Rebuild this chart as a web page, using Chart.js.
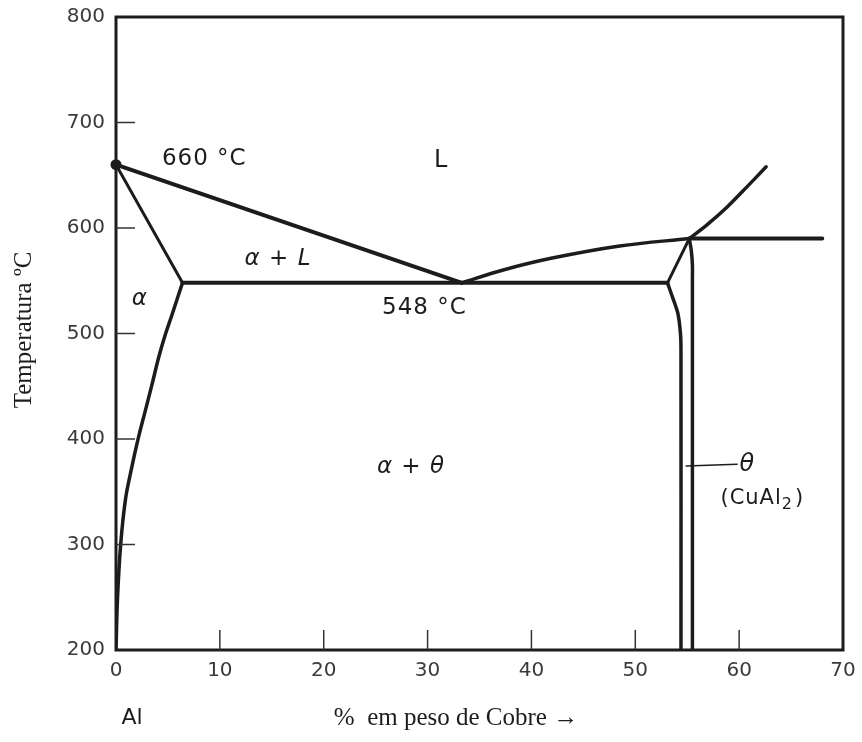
<!DOCTYPE html>
<html>
<head>
<meta charset="utf-8">
<script src="https://cdn.jsdelivr.net/npm/chart.js@4.4.0/dist/chart.umd.min.js"></script>
<style>
  html, body { margin: 0; padding: 0; background: #fff; }
  #wrap { width: 862px; height: 742px; }
</style>
</head>
<body>
<div id="wrap"><canvas id="diagram" width="862" height="742"></canvas></div>
<script>
// Diagrama de fases Al-Cu (lado rico em Al)
const xTicks = [0, 10, 20, 30, 40, 50, 60, 70];
const yTicks = [200, 300, 400, 500, 600, 700, 800];

// linhas do diagrama: % Cu e temperatura
const liquidusAlX = [0, 33.3];
const liquidusAlT = [660, 548];
const solidusX = [0, 6.4];
const solidusT = [660, 548];
const solvusX = [6.4, 6.0, 5.4, 4.75, 4.1, 3.45, 2.8, 2.15, 1.45, 0.9, 0.45, 0.15, 0];
const solvusT = [548, 536, 518, 499, 477, 451, 426, 401, 370, 342, 300, 250, 200];
const eutecticX = [6.4, 53.1];
const eutecticT = [548, 548];
const liquidusThetaX = [33.3, 37.2, 42.0, 48.5, 55.2];
const liquidusThetaT = [548, 560, 571.5, 583, 590];
const thetaTopX = [53.1, 55.2];
const thetaTopT = [548, 590];
const thetaLeftX = [53.1, 53.6, 54.1, 54.35, 54.4, 54.4];
const thetaLeftT = [548, 534, 519, 500, 484, 200];
const thetaRightX = [55.2, 55.4, 55.5, 55.5, 55.5];
const thetaRightT = [590, 578, 565, 550, 200];
const peritecticX = [55.2, 68.0];
const peritecticT = [590, 590];
const liquidusUpperX = [55.2, 56.9, 58.85, 60.75, 62.6];
const liquidusUpperT = [590, 603, 620, 639, 658];
const leaderX = [54.9, 59.8];
const leaderT = [374.5, 376];
const meltPointX = [0];
const meltPointT = [660];

const ink = '#1c1c1c';

function pts(xs, ts) {
    return xs.map((x, i) => ({ x: x, y: ts[i] }));
}

function curve(xs, ts, width, tension) {
    return {
        data: pts(xs, ts),
        showLine: true,
        borderColor: ink,
        borderWidth: width,
        pointRadius: 0,
        tension: tension || 0,
        borderCapStyle: 'round',
        borderJoinStyle: 'round'
    };
}

// rótulos das regiões
const labels = [
    { text: '660 °C', x: 8.5, y: 665, font: '23px "DejaVu Sans"' },
    { text: 'L', x: 31.3, y: 664, font: '24px "DejaVu Sans"' },
    { text: 'α + L', x: 15.6, y: 571, font: 'italic 23px "DejaVu Sans"' },
    { text: 'α', x: 2.3, y: 533, font: 'italic 23px "DejaVu Sans"' },
    { text: '548 °C', x: 29.7, y: 524, font: '23px "DejaVu Sans"' },
    { text: 'α + θ', x: 28.4, y: 373, font: 'italic 23px "DejaVu Sans"' },
    { text: 'θ', x: 60.8, y: 376, font: 'italic 24px "DejaVu Sans"' }
];

const framePlugin = {
    id: 'frame',
    afterDatasetsDraw(chart) {
        const ctx = chart.ctx;
        const a = chart.chartArea;
        const xs = chart.scales.x;
        const ys = chart.scales.y;
        ctx.save();
        ctx.strokeStyle = ink;
        ctx.lineWidth = 3;
        ctx.strokeRect(a.left, a.top, a.right - a.left, a.bottom - a.top);

        // marcas internas
        ctx.lineWidth = 1.5;
        ctx.strokeStyle = '#333';
        xTicks.slice(1, -1).forEach(v => {
            const px = xs.getPixelForValue(v);
            ctx.beginPath();
            ctx.moveTo(px, a.bottom);
            ctx.lineTo(px, a.bottom - 20);
            ctx.stroke();
        });
        yTicks.slice(1, -1).forEach(v => {
            const py = ys.getPixelForValue(v);
            ctx.beginPath();
            ctx.moveTo(a.left, py);
            ctx.lineTo(a.left + 19, py);
            ctx.stroke();
        });

        // textos
        ctx.fillStyle = ink;
        ctx.textAlign = 'center';
        ctx.textBaseline = 'middle';
        ctx.letterSpacing = '1px';
        labels.forEach(l => {
            ctx.font = l.font;
            ctx.fillText(l.text, xs.getPixelForValue(l.x), ys.getPixelForValue(l.y));
        });

        // (CuAl2) com índice
        ctx.textAlign = 'left';
        ctx.font = '21px "DejaVu Sans"';
        const cx = xs.getPixelForValue(58.2);
        const cy = ys.getPixelForValue(344);
        const w1 = ctx.measureText('(CuAl').width;
        ctx.fillText('(CuAl', cx, cy);
        ctx.font = '16px "DejaVu Sans"';
        ctx.fillText('2', cx + w1, cy + 7);
        const w2 = ctx.measureText('2').width;
        ctx.font = '21px "DejaVu Sans"';
        ctx.fillText(')', cx + w1 + w2 + 2, cy);

        ctx.textAlign = 'center';
        ctx.letterSpacing = '0px';
        ctx.font = '22px "DejaVu Sans"';
        ctx.fillText('Al', a.left + 16, 718);

        ctx.font = '25px "Liberation Serif"';
        ctx.fillText('% \u00a0em peso de Cobre \u2192', 456, 718);

        ctx.translate(24, 330);
        ctx.rotate(-Math.PI / 2);
        ctx.font = '25px "Liberation Serif"';
        ctx.fillText('Temperatura ºC', 0, 0);
        ctx.restore();
    }
};

const meltPoint = {
    data: pts(meltPointX, meltPointT),
    pointRadius: 5.5,
    pointBackgroundColor: ink,
    pointBorderWidth: 0,
    showLine: false,
    clip: false
};

new Chart(document.getElementById('diagram'), {
    type: 'scatter',
    data: {
        datasets: [
            curve(liquidusAlX, liquidusAlT, 4),
            curve(solidusX, solidusT, 3),
            curve(solvusX, solvusT, 3.5, 0.4),
            curve(eutecticX, eutecticT, 4),
            curve(liquidusThetaX, liquidusThetaT, 3.5, 0.35),
            curve(thetaTopX, thetaTopT, 3),
            curve(thetaLeftX, thetaLeftT, 3.5, 0.3),
            curve(thetaRightX, thetaRightT, 3.5, 0.3),
            curve(peritecticX, peritecticT, 4),
            curve(liquidusUpperX, liquidusUpperT, 3.5, 0.3),
            curve(leaderX, leaderT, 1.5),
            meltPoint
        ]
    },
    options: {
        responsive: false,
        animation: false,
        layout: { padding: { left: 0, top: 17, right: 19, bottom: 0 } },
        plugins: {
            legend: { display: false },
            tooltip: { enabled: false }
        },
        scales: {
            x: {
                type: 'linear',
                min: 0,
                max: 70,
                afterFit(scale) {
                    scale.height = 92;
                    scale.paddingLeft = 0;
                    scale.paddingRight = 0;
                },
                afterBuildTicks(scale) { scale.ticks = xTicks.map(v => ({ value: v })); },
                grid: { display: false, drawTicks: false },
                border: { display: false },
                ticks: {
                    padding: 9,
                    color: '#3a3a3a',
                    font: { family: 'DejaVu Sans', size: 20 }
                }
            },
            y: {
                type: 'linear',
                min: 200,
                max: 800,
                afterFit(scale) {
                    scale.width = 116;
                    scale.paddingTop = 0;
                    scale.paddingBottom = 0;
                },
                afterBuildTicks(scale) { scale.ticks = yTicks.map(v => ({ value: v })); },
                grid: { display: false, drawTicks: false },
                border: { display: false },
                ticks: {
                    padding: 11,
                    color: '#3a3a3a',
                    font: { family: 'DejaVu Sans', size: 20 }
                }
            }
        }
    },
    plugins: [framePlugin]
});
</script>
</body>
</html>
